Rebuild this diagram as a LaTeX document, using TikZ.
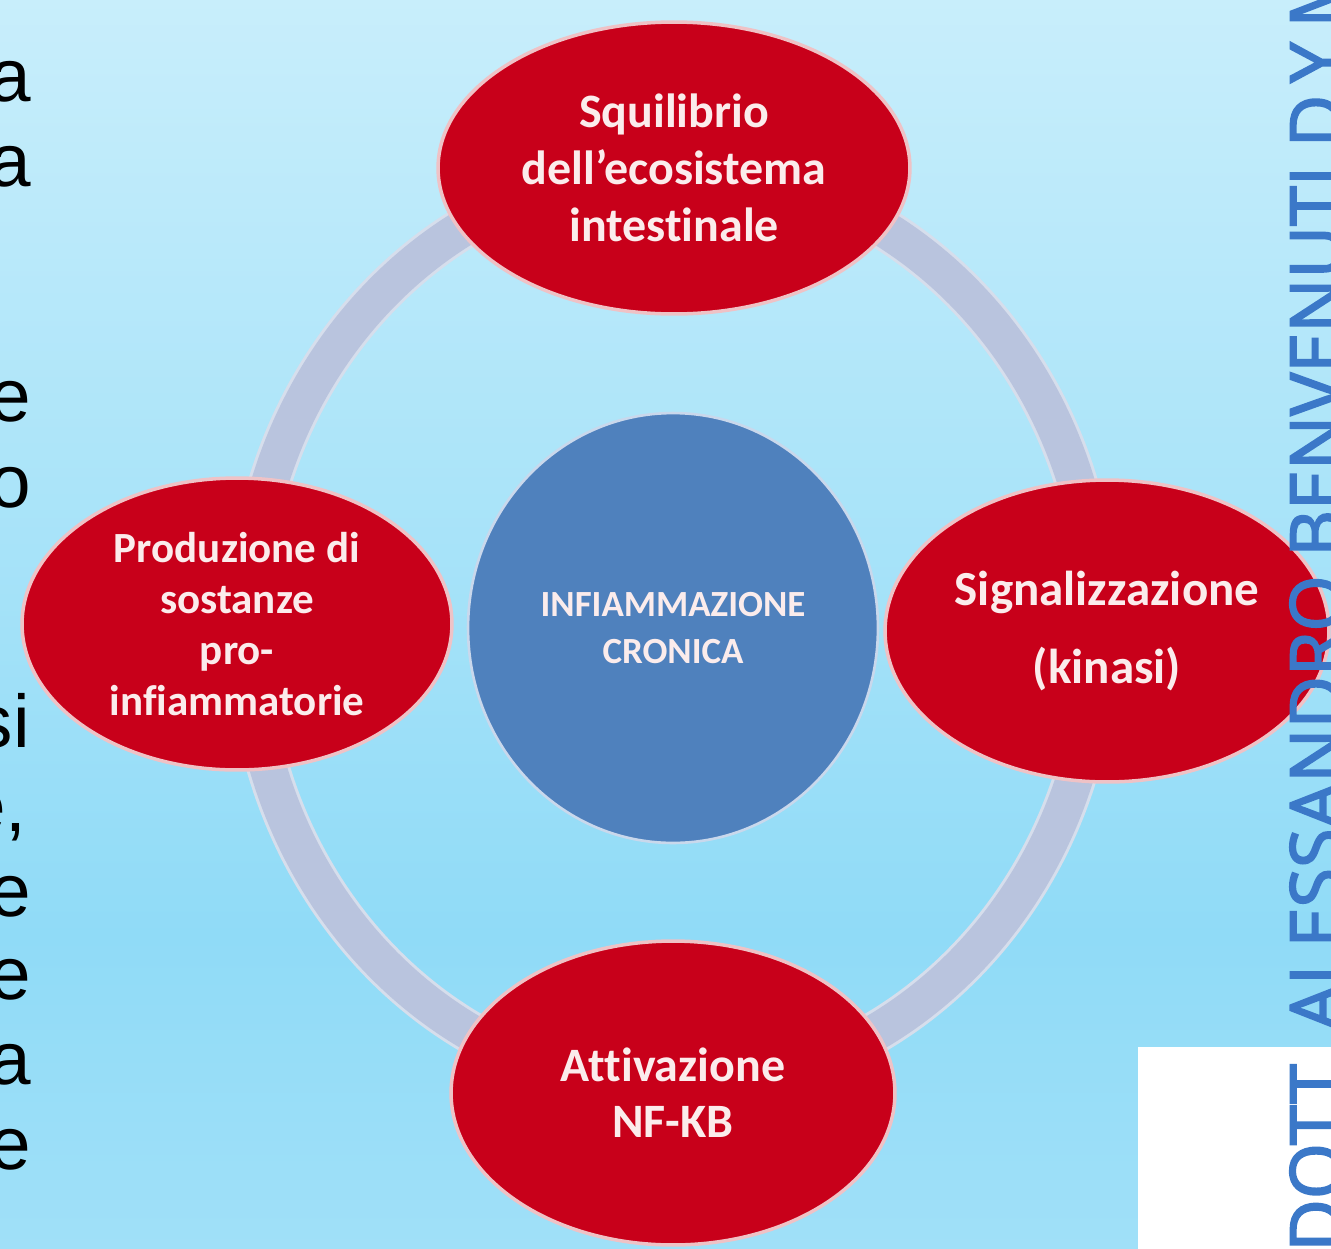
\documentclass[tikz,border=0pt]{standalone}
\usepackage{fontspec}
\setmainfont{Liberation Sans}
\newfontfamily\carl[Ligatures=NoCommon]{Carlito}
\newfontfamily\osans[FakeBold=2.5]{Open Sans}
\usetikzlibrary{shapes.geometric}
\definecolor{bgtop}{HTML}{C8EEFB}
\definecolor{bgmid}{HTML}{90DBF7}
\definecolor{bgbot}{HTML}{A0E0F8}
\definecolor{redfill}{HTML}{C8001A}
\definecolor{rededge}{HTML}{EFC2C6}
\definecolor{bluefill}{HTML}{4F81BD}
\definecolor{blueedge}{HTML}{C9D8EC}
\definecolor{ringcol}{HTML}{B9C4DE}
\definecolor{ringedge}{HTML}{D6DEEC}
\definecolor{signblue}{HTML}{3B78C8}
\definecolor{celltext}{HTML}{FBECEC}
\pgfdeclareverticalshading{bgshade}{100bp}{color(0bp)=(bgbot); color(25bp)=(bgbot); color(37.5bp)=(bgmid); color(75bp)=(bgtop); color(100bp)=(bgtop)}
\tikzset{
  cell/.style={ellipse, fill=redfill, draw=rededge, line width=2pt, inner sep=0pt,
    text=celltext, align=center},
  hub/.style={ellipse, fill=bluefill, draw=blueedge, line width=1.5pt, inner sep=0pt,
    text=celltext, align=center, minimum width=8.2cm, minimum height=8.6cm,
    font=\carl\bfseries\fontsize{21}{26.2}\selectfont},
  sidetxt/.style={anchor=base east, inner sep=0pt, text=black,
    font=\fontsize{42.5}{50}\selectfont},
}
\begin{document}
\begin{tikzpicture}[x=0.02cm,y=-0.02cm]
\path[use as bounding box] (0,0) rectangle (1331,1248);
\clip (0,0) rectangle (1331,1248);
\shade[shading=bgshade] (0,0) rectangle (1331,1248);

% left-hand cut-off text
\node[sidetxt] (l1) at (31,101) {a};
\node[sidetxt] (l2) at (31,186) {a};
\node[sidetxt] (l3) at (31,421) {e};
\node[sidetxt] (l4) at (31,507) {o};
\node[sidetxt] (l5) at (30,747) {si};
\node[sidetxt] (l6) at (27,831) {e,};
\node[sidetxt] (l7) at (31,916) {e};
\node[sidetxt] (l8) at (31,999) {e};
\node[sidetxt] (l9) at (31,1084) {a};
\node[sidetxt] (l10) at (31,1169) {e};

% centre
\node[hub] (hub) at (673,628) {INFIAMMAZIONE\\CRONICA};

% ring
\draw[ringedge, line width=0.86cm] (hub.center) ellipse [x radius=8.5cm, y radius=9.2cm];
\draw[ringcol, line width=0.74cm] (hub.center) ellipse [x radius=8.5cm, y radius=9.2cm];

% outer cells
\node[cell, minimum width=9.44cm, minimum height=5.84cm,
  font=\carl\bfseries\fontsize{27.3}{32.4}\selectfont] (top) at (674,168)
  {Squilibrio\\dell’ecosistema\\intestinale};
\node[cell, minimum width=8.88cm, minimum height=6.04cm,
  font=\carl\bfseries\fontsize{27.9}{44.4}\selectfont] (right) at (1107,631)
  {Signalizzazione\\(kinasi)};
\node[cell, minimum width=8.88cm, minimum height=6.08cm,
  font=\carl\bfseries\fontsize{27.3}{31.9}\selectfont] (bottom) at (673,1093)
  {Attivazione\\NF-KB};
\node[cell, minimum width=8.6cm, minimum height=5.84cm,
  font=\carl\bfseries\fontsize{24.5}{29}\selectfont] (left) at (237,624)
  {Produzione di\\sostanze\\pro-\\infiammatorie};

% white box and vertical signature
\node[fill=white, inner sep=0pt, anchor=north west, minimum width=3.9cm,
  minimum height=4.1cm] (blank) at (1138,1047) {};
\node[rotate=90, anchor=base west, inner sep=0pt, text=signblue,
  font=\osans\fontsize{41}{48}\selectfont] (sig) at (1342,1252)
  {DOTT. ALESSANDRO BENVENUTI D.Y.M.};
\end{tikzpicture}
\end{document}
